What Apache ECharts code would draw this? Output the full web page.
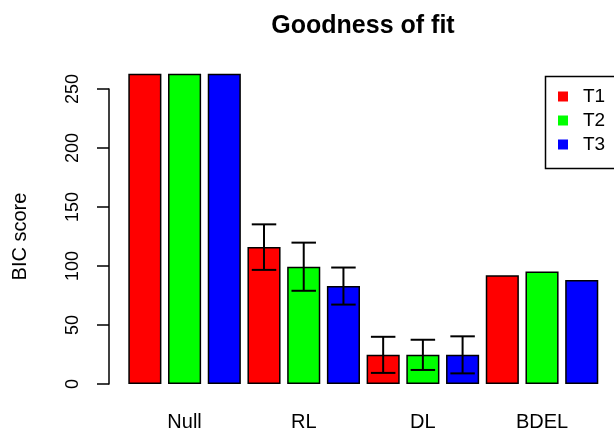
<!DOCTYPE html>
<html>
<head>
<meta charset="utf-8">
<script src="https://cdn.jsdelivr.net/npm/echarts@6/dist/echarts.min.js"></script>
<style>
  html, body { margin: 0; padding: 0; background: #ffffff; }
  #chart { width: 614px; height: 432px; }
</style>
</head>
<body>
<div id="chart"></div>
<script>
// Model comparison: BIC score per model, one bar per treatment
const categories = ['Null', 'RL', 'DL', 'BDEL'];
const seriesNames = ['T1', 'T2', 'T3'];
const colors = ['#ff0000', '#00ff00', '#0000ff'];

const t1Values = [263, 116.0, 24.7, 92.1];
const t2Values = [263, 99.4, 24.7, 95.4];
const t3Values = [263, 83.0, 24.7, 88.1];

// half-length of the error bars (none for Null and BDEL)
const t1Err = [null, 19.3, 15.3, null];
const t2Err = [null, 20.4, 12.8, null];
const t3Err = [null, 15.7, 15.7, null];

const yTicks = [0, 50, 100, 150, 200, 250];

const FONT = '"Liberation Sans", Arial, Helvetica, sans-serif';
const values = [t1Values, t2Values, t3Values];
const errors = [t1Err, t2Err, t3Err];

const barSeries = seriesNames.map((name, k) => ({
  name: name,
  type: 'bar',
  data: values[k],
  barGap: '20%',
  barCategoryGap: (0.2 / 3.6 * 100) + '%',
  clip: false,
  itemStyle: { color: colors[k], borderColor: '#000000', borderWidth: 1.5 },
  emphasis: { disabled: true },
  z: 2
}));

const errorSeries = seriesNames.map((name, k) => ({
  name: name + ' error',
  type: 'custom',
  z: 5,
  clip: false,
  encode: { x: 0, y: 1 },
  data: errors[k]
    .map((e, i) => (e == null ? null : [i, values[k][i], e]))
    .filter(d => d !== null),
  renderItem: function (params, api) {
    const idx = api.value(0);
    const v = api.value(1);
    const e = api.value(2);
    const band = api.size([1, 0])[0];
    const x = api.coord([idx, v])[0] + (k - 1) * band / 3;
    const yTop = api.coord([idx, v + e])[1];
    const yBot = api.coord([idx, v - e])[1];
    const half = band / 3.6 * 0.37;
    const style = { stroke: '#000000', lineWidth: 2 };
    return {
      type: 'group',
      children: [
        { type: 'line', shape: { x1: x, y1: yTop, x2: x, y2: yBot }, style: style },
        { type: 'line', shape: { x1: x - half, y1: yTop, x2: x + half, y2: yTop }, style: style },
        { type: 'line', shape: { x1: x - half, y1: yBot, x2: x + half, y2: yBot }, style: style }
      ]
    };
  }
}));

const chart = echarts.init(document.getElementById('chart'), null, { renderer: 'canvas' });
chart.setOption({
  backgroundColor: '#ffffff',
  animation: false,
  textStyle: { fontFamily: FONT },
  title: {
    text: 'Goodness of fit',
    left: 363,
    top: 14,
    padding: 0,
    textAlign: 'center',
    textStyle: { fontFamily: FONT, fontWeight: 'bold', fontSize: 25, color: '#000000' }
  },
  // legend frame runs past the right edge of the canvas
  graphic: [{
    type: 'rect',
    left: 543,
    top: 74,
    shape: { x: 0, y: 0, width: 110, height: 92 },
    style: { fill: 'none', stroke: '#000000', lineWidth: 1.5 },
    silent: true,
    z: 10
  }],
  legend: {
    data: seriesNames,
    orient: 'vertical',
    left: 543,
    top: 74,
    padding: [13, 10, 14, 15],
    itemWidth: 10,
    itemHeight: 10,
    itemGap: 5,
    icon: 'rect',
    itemStyle: { borderWidth: 0 },
    borderWidth: 0,
    selectedMode: false,
    textStyle: { fontFamily: FONT, fontSize: 19, color: '#000000', padding: [0, 0, 0, 10] }
  },
  grid: { left: 125, right: 12.4, top: 89, bottom: 47, containLabel: false },
  xAxis: {
    type: 'category',
    data: categories,
    axisLine: { show: false },
    axisTick: { show: false },
    axisLabel: { fontFamily: FONT, fontSize: 20, color: '#000000', margin: 28 }
  },
  yAxis: {
    type: 'value',
    min: yTicks[0],
    max: yTicks[yTicks.length - 1],
    interval: yTicks[1] - yTicks[0],
    offset: 16,
    name: 'BIC score',
    nameLocation: 'middle',
    nameRotate: 90,
    nameGap: 79,
    nameTextStyle: { fontFamily: FONT, fontSize: 20, color: '#000000' },
    axisLine: { show: true, lineStyle: { color: '#000000', width: 1.5 } },
    axisTick: { show: true, length: 12, lineStyle: { color: '#000000', width: 1.5 } },
    axisLabel: { fontFamily: FONT, fontSize: 18, color: '#000000', rotate: 90, margin: 27 },
    splitLine: { show: false }
  },
  series: barSeries.concat(errorSeries)
});
</script>
</body>
</html>
